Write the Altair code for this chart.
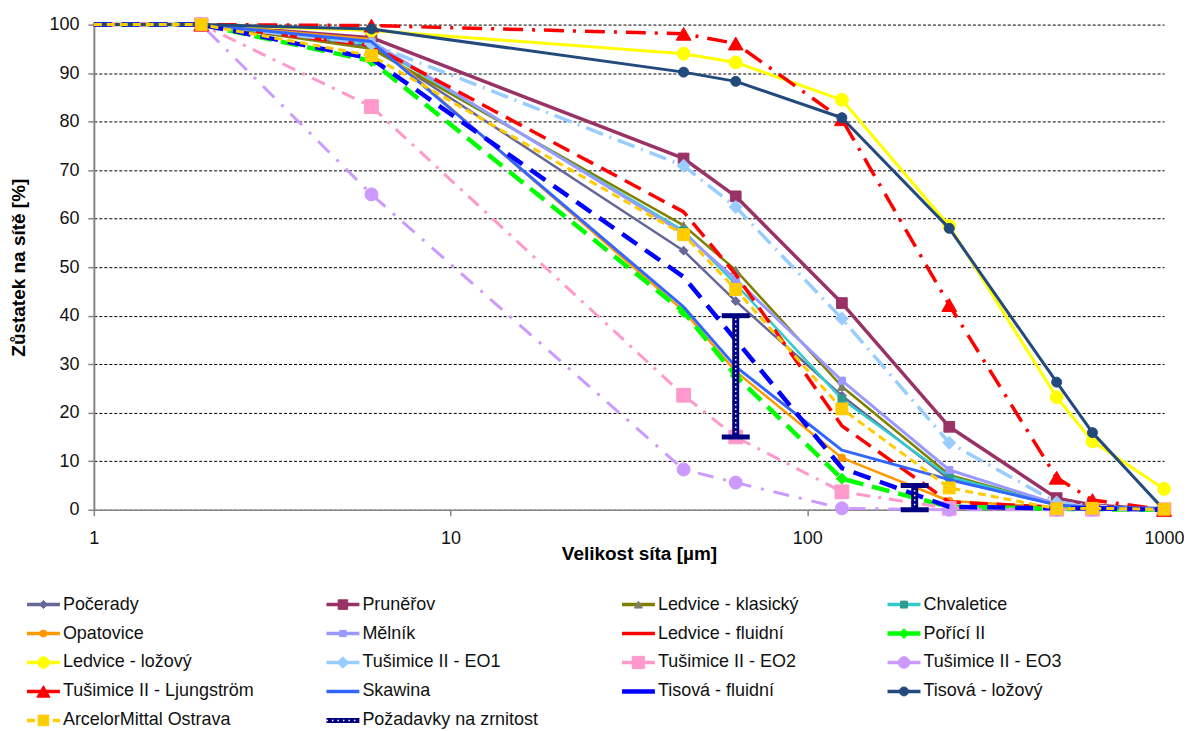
import altair as alt
import pandas as pd

# ---------------- data ----------------
sieve_sizes = [1, 2, 6, 45, 63, 125, 250, 500, 630, 1000]

series_names = [
    "Počerady", "Pruněřov", "Ledvice - klasický", "Chvaletice",
    "Opatovice", "Mělník", "Ledvice - fluidní", "Pořící II",
    "Ledvice - ložový", "Tušimice II - EO1", "Tušimice II - EO2", "Tušimice II - EO3",
    "Tušimice II - Ljungström", "Skawina", "Tisová - fluidní", "Tisová - ložový",
    "ArcelorMittal Ostrava",
]

pocerady = [100, 100, 95.5, 53.4, 43.0, 23.5, 6.3, 1.0, 0.5, 0]
prunerov = [100, 100, 97.3, 72.4, 64.6, 42.6, 17.1, 2.4, 1.0, 0]
ledvice_klasicky = [100, 100, 95.0, 58.6, 49.4, 25.4, 7.2, 1.0, 0.5, 0]
chvaletice = [100, 100, 96.0, 57.5, 46.5, 22.8, 6.8, 1.0, 0.5, 0]
opatovice = [100, 100, 97.0, 41.0, 28.5, 10.7, 1.8, 0.5, 0.3, 0]
melnik = [100, 100, 96.5, 57.0, 47.5, 26.6, 8.2, 1.2, 0.5, 0]
ledvice_fluidni = [100, 100, 95.7, 61.4, 48.5, 17.3, 1.6, 0.5, 0.3, 0]
porici = [100, 100, 92.5, 40.8, 27.6, 6.4, 0.6, 0.2, 0.1, 0]
ledvice_lozovy = [100, 100, 98.8, 94.0, 92.2, 84.5, 58.5, 23.2, 14.1, 4.3]
tusimice_eo1 = [100, 100, 96.0, 70.9, 62.4, 39.4, 13.8, 1.5, 0.8, 0]
tusimice_eo2 = [100, 100, 83.1, 23.6, 15.0, 3.7, 0.3, 0.1, 0.1, 0]
tusimice_eo3 = [100, 100, 65.0, 8.3, 5.6, 0.3, 0, 0, 0, 0]
tusimice_ljung = [100, 100, 99.8, 98.1, 96.1, 80.5, 42.2, 6.6, 2.0, 0]
skawina = [100, 100, 96.5, 41.8, 29.5, 12.3, 6.2, 1.0, 0.5, 0.3]
tisova_fluidni = [100, 100, 93.0, 48.0, 35.0, 8.6, 0.6, 0.3, 0.3, 0]
tisova_lozovy = [100, 100, 99.1, 90.2, 88.3, 80.8, 58.0, 26.3, 15.9, 0]
arcelor = [100, 100, 93.6, 56.7, 45.4, 20.8, 4.5, 0.2, 0.3, 0.1]

series_values = [
    pocerady, prunerov, ledvice_klasicky, chvaletice,
    opatovice, melnik, ledvice_fluidni, porici,
    ledvice_lozovy, tusimice_eo1, tusimice_eo2, tusimice_eo3,
    tusimice_ljung, skawina, tisova_fluidni, tisova_lozovy,
    arcelor,
]

req_name = "Požadavky na zrnitost"
req_sizes = [63, 200]
req_low = [15, 0]
req_high = [40, 5]

# ---------------- styles ----------------
STY = {
    "Počerady": dict(color="#666699", w=2.5, shape="diamond", size=80, fill="#666699"),
    "Pruněřov": dict(color="#993366", w=3.5, shape="square", size=115, fill="#993366"),
    "Ledvice - klasický": dict(color="#808000", w=2.5, shape="triangle-up", size=80, fill="#7F7F6A"),
    "Chvaletice": dict(color="#33CCCC", w=2.5, shape="square", size=60, fill="#2E9C8C"),
    "Opatovice": dict(color="#FF9900", w=2.5, shape="circle", size=60, fill="#FF9900"),
    "Mělník": dict(color="#9999FF", w=3, shape="square", size=50, fill="#9999FF"),
    "Ledvice - fluidní": dict(color="#FF0000", w=3.5, dash=[18, 9]),
    "Pořící II": dict(color="#00FF00", w=4.5, dash=[18, 9], shape="diamond", size=120, fill="#00FF00"),
    "Ledvice - ložový": dict(color="#FFFF00", w=3, shape="circle", size=165, fill="#FFFF00"),
    "Tušimice II - EO1": dict(color="#99CCFF", w=3.5, dash=[18, 7, 2, 7], shape="diamond", size=170, fill="#99CCFF"),
    "Tušimice II - EO2": dict(color="#FF99CC", w=3, dash=[14, 8, 3, 8], shape="square", size=190, fill="#FF99CC"),
    "Tušimice II - EO3": dict(color="#CC99FF", w=3, dash=[16, 10, 3, 10], shape="circle", size=170, fill="#CC99FF"),
    "Tušimice II - Ljungström": dict(color="#FF0000", w=3.5, dash=[20, 9, 3, 9], shape="triangle-up", size=220, fill="#FF0000"),
    "Skawina": dict(color="#3366FF", w=3),
    "Tisová - fluidní": dict(color="#0000FF", w=4.5, dash=[18, 10]),
    "Tisová - ložový": dict(color="#234A7C", w=3, shape="circle", size=100, fill="#234A7C"),
    "ArcelorMittal Ostrava": dict(color="#FFCC00", w=3, dash=[8, 5], shape="square", size=140, fill="#FFCC00"),
}
LEGEND_DASH = {"ArcelorMittal Ostrava": [8, 5]}
NAVY = "#000080"
FONT = "Liberation Sans"

# ---------------- tables ----------------
rows = []
for name, vals in zip(series_names, series_values):
    for i, (x, y) in enumerate(zip(sieve_sizes, vals)):
        rows.append({"series": name, "x": x, "y": y, "i": i})
df = pd.DataFrame(rows)

req_df = pd.DataFrame({"x": req_sizes, "lo": req_low, "hi": req_high})

legend_entries = series_names + [req_name]
leg_df = pd.DataFrame({
    "name": legend_entries,
    "col": [k % 4 for k in range(len(legend_entries))],
    "row": [k // 4 for k in range(len(legend_entries))],
})

# ---------------- scales / axes ----------------
xscale = alt.Scale(type="log", domain=[1, 1000], nice=False)
yscale = alt.Scale(domain=[0, 100], nice=False, zero=False)
xaxis = alt.Axis(
    title="Velikost síta [µm]", values=[1, 10, 100, 1000], format="d", grid=False,
    tickSize=6, labelPadding=14, titleY=35, titleX=546, labelFlush=False, labelOverlap=False,
    domainColor="#868686", domainWidth=1.5, tickColor="#868686", tickWidth=1.5,
)
yaxis = alt.Axis(
    title="Zůstatek na sítě [%]", values=list(range(0, 101, 10)), grid=True,
    gridColor="#000000", gridDash=[3, 2], gridWidth=1,
    tickSize=6, labelPadding=9, titlePadding=20,
    domainColor="#868686", domainWidth=2, tickColor="#868686", tickWidth=1.5,
)
X = alt.X("x:Q", scale=xscale, axis=xaxis)
Y = alt.Y("y:Q", scale=yscale, axis=yaxis)

main_layers = []
for name in series_names:
    st = STY[name]
    base = alt.Chart(df).transform_filter(alt.FieldEqualPredicate(field="series", equal=name))
    kw = dict(color=st["color"], strokeWidth=st["w"], strokeJoin="round")
    if "dash" in st:
        kw["strokeDash"] = st["dash"]
    main_layers.append(base.mark_line(**kw).encode(x=X, y=Y, order="i:Q"))
    if "shape" in st:
        main_layers.append(
            base.transform_filter(alt.datum.x > 1)
            .mark_point(shape=st["shape"], size=st["size"], filled=True,
                        fill=st["fill"], stroke=st["fill"], strokeWidth=1, opacity=1)
            .encode(x=X, y=Y)
        )

Ylo = alt.Y("lo:Q", scale=yscale, axis=yaxis)
Yhi = alt.Y("hi:Q", scale=yscale, axis=yaxis)
req_base = alt.Chart(req_df)
main_layers += [
    req_base.mark_rule(color=NAVY, strokeWidth=7).encode(x=X, y=Ylo, y2="hi:Q"),
    req_base.mark_rule(color="white", strokeWidth=1.5, strokeDash=[1.5, 3]).encode(x=X, y=Ylo, y2="hi:Q"),
    req_base.mark_rule(color=NAVY, strokeWidth=5, xOffset=-14, x2Offset=14).encode(x=X, x2=alt.X2("x"), y=Ylo),
    req_base.mark_rule(color=NAVY, strokeWidth=5, xOffset=-14, x2Offset=14).encode(x=X, x2=alt.X2("x"), y=Yhi),
]

# ---------------- legend ----------------
LX = alt.Scale(domain=[0, 1, 2, 3], range=[-67, 233, 529, 795], nice=False, zero=False)
LY = alt.Scale(domain=[0, 4], range=[581, 697], nice=False, zero=False)
lx = alt.X("col:Q", scale=LX, axis=None)
ly = alt.Y("row:Q", scale=LY, axis=None)

legend_layers = []
for name in series_names:
    st = STY[name]
    base = alt.Chart(leg_df).transform_filter(alt.FieldEqualPredicate(field="name", equal=name))
    kw = dict(color=st["color"], strokeWidth=max(st["w"], 3.5), x2Offset=33)
    if name in LEGEND_DASH:
        kw["strokeDash"] = LEGEND_DASH[name]
    legend_layers.append(base.mark_rule(**kw).encode(x=lx, x2=alt.X2("col"), y=ly))
    if "shape" in st:
        legend_layers.append(
            base.mark_point(shape=st["shape"], size=st["size"] * 0.8, filled=True,
                            fill=st["fill"], stroke=st["fill"], strokeWidth=1, opacity=1,
                            xOffset=16.5)
            .encode(x=lx, y=ly)
        )
rb = alt.Chart(leg_df).transform_filter(alt.FieldEqualPredicate(field="name", equal=req_name))
legend_layers += [
    rb.mark_rule(color=NAVY, strokeWidth=5, x2Offset=33).encode(x=lx, x2=alt.X2("col"), y=ly),
    rb.mark_rule(color="white", strokeWidth=1.5, strokeDash=[1.5, 4], x2Offset=33).encode(x=lx, x2=alt.X2("col"), y=ly),
]
legend_layers.append(
    alt.Chart(leg_df).mark_text(align="left", baseline="middle", xOffset=36,
                                fontSize=18, font=FONT, color="#111111")
    .encode(x=lx, y=ly, text="name:N")
)

chart = (
    alt.layer(alt.layer(*main_layers), alt.layer(*legend_layers))
    .resolve_scale(x="independent", y="independent")
    .properties(
        width=1072, height=486,
        autosize=alt.AutoSizeParams(type="none"),
        padding={"left": 86, "top": 16, "right": 20, "bottom": 221},
        background="white",
    )
    .configure_view(stroke=None)
    .configure_axis(
        labelFont=FONT, titleFont=FONT, labelFontSize=18, titleFontSize=19,
        labelColor="#111111", titleColor="#000000", titleFontWeight="bold",
    )
)

chart.save("out.html", embed_options={"renderer": "svg", "actions": False})
